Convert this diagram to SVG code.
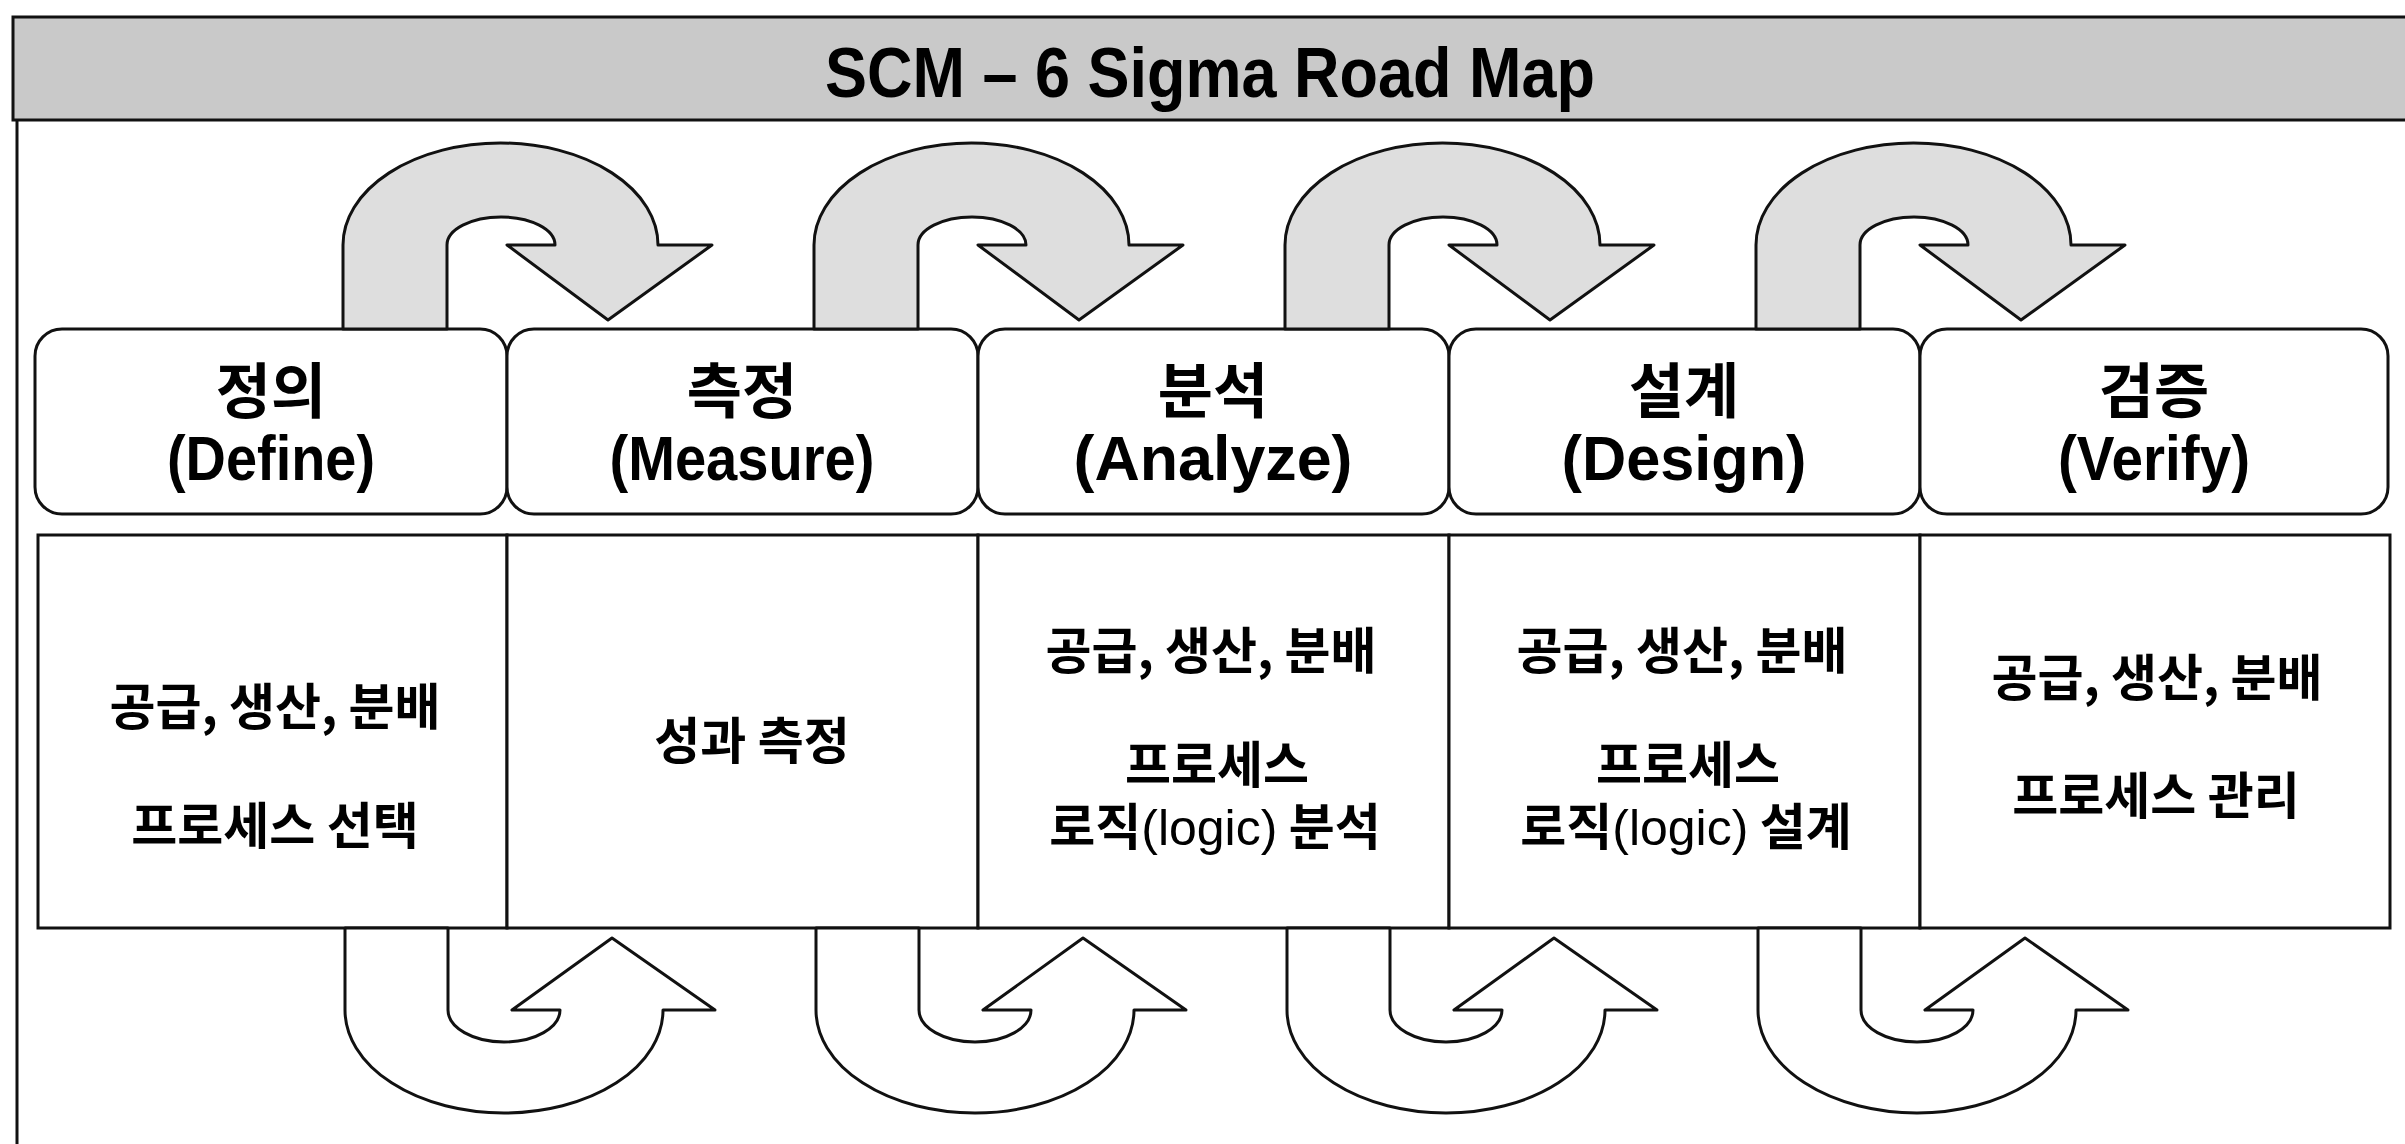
<svg xmlns="http://www.w3.org/2000/svg" width="2405" height="1144" viewBox="0 0 2405 1144">
<style>
.ln{stroke:#111;stroke-width:3;fill:none}
.hdr{fill:#c9c9c9;stroke:#111;stroke-width:3}
.rb{fill:#fff;stroke:#111;stroke-width:3}
.cell{fill:#fff;stroke:#111;stroke-width:3}
.up{fill:#dedede;stroke:#111;stroke-width:3;stroke-linejoin:round}
.down{fill:#fff;stroke:#111;stroke-width:3;stroke-linejoin:round}
.ttl{font-family:"Liberation Sans Narrow","Liberation Sans",Arial,sans-serif;font-weight:bold;font-size:70px;fill:#000;text-anchor:middle}
.ko{font-family:"Noto Sans CJK KR","Noto Sans",sans-serif;font-weight:bold;font-size:60px;fill:#000;text-anchor:middle}
.en{font-family:"Liberation Sans Narrow","Liberation Sans",Arial,sans-serif;font-weight:bold;font-size:63px;fill:#000;text-anchor:middle}
.tx{font-family:"Noto Sans CJK KR","Noto Sans",sans-serif;font-weight:bold;font-size:50px;fill:#000;text-anchor:middle}
.lat{font-family:"Liberation Sans",Arial,sans-serif;font-weight:normal}
</style>
<rect x="0" y="0" width="2405" height="1144" fill="#fff"/>
<g id="header">
<rect class="hdr" x="13" y="17" width="2400" height="103"/>
<text class="ttl" x="1210" y="97" textLength="770" lengthAdjust="spacingAndGlyphs">SCM – 6 Sigma Road Map</text>
</g>
<g id="frame">
<line class="ln" x1="17" y1="120" x2="17" y2="1144"/>
</g>
<g id="node-define">
<rect class="rb" x="35" y="329" width="472" height="185" rx="27"/>
<text class="ko" x="271" y="413">정의</text>
<text class="en" x="271" y="480" textLength="208" lengthAdjust="spacingAndGlyphs">(Define)</text>
</g>
<g id="node-measure">
<rect class="rb" x="507" y="329" width="471" height="185" rx="27"/>
<text class="ko" x="742" y="413">측정</text>
<text class="en" x="742" y="480" textLength="265" lengthAdjust="spacingAndGlyphs">(Measure)</text>
</g>
<g id="node-analyze">
<rect class="rb" x="978" y="329" width="471" height="185" rx="27"/>
<text class="ko" x="1213" y="413">분석</text>
<text class="en" x="1213" y="480" textLength="279" lengthAdjust="spacingAndGlyphs">(Analyze)</text>
</g>
<g id="node-design">
<rect class="rb" x="1449" y="329" width="471" height="185" rx="27"/>
<text class="ko" x="1684" y="413">설계</text>
<text class="en" x="1684" y="480" textLength="245" lengthAdjust="spacingAndGlyphs">(Design)</text>
</g>
<g id="node-verify">
<rect class="rb" x="1920" y="329" width="468" height="185" rx="27"/>
<text class="ko" x="2154" y="413">검증</text>
<text class="en" x="2154" y="480" textLength="192" lengthAdjust="spacingAndGlyphs">(Verify)</text>
</g>
<g id="cell-define">
<rect class="cell" x="38" y="535" width="469" height="393"/>
<text class="tx" x="275" y="725">공급, 생산, 분배</text>
<text class="tx" x="275" y="844">프로세스 선택</text>
</g>
<g id="cell-measure">
<rect class="cell" x="507" y="535" width="471" height="393"/>
<text class="tx" x="752" y="759">성과 측정</text>
</g>
<g id="cell-analyze">
<rect class="cell" x="978" y="535" width="471" height="393"/>
<text class="tx" x="1211" y="669">공급, 생산, 분배</text>
<text class="tx" x="1217" y="783">프로세스</text>
<text class="tx" x="1215" y="845">로직<tspan class="lat">(logic)</tspan> 분석</text>
</g>
<g id="cell-design">
<rect class="cell" x="1449" y="535" width="471" height="393"/>
<text class="tx" x="1682" y="669">공급, 생산, 분배</text>
<text class="tx" x="1688" y="783">프로세스</text>
<text class="tx" x="1686" y="845">로직<tspan class="lat">(logic)</tspan> 설계</text>
</g>
<g id="cell-verify">
<rect class="cell" x="1920" y="535" width="470" height="393"/>
<text class="tx" x="2157" y="696">공급, 생산, 분배</text>
<text class="tx" x="2156" y="814">프로세스 관리</text>
</g>
<g id="connectors">
<path class="up" d="M343,329 L343,245 A157.5,102 0 0 1 658,245 L712,245 L608,320 L507,245 L555,245 A54,28 0 0 0 447,245 L447,329 Z"/>
<path class="up" d="M814,329 L814,245 A157.5,102 0 0 1 1129,245 L1183,245 L1079,320 L978,245 L1026,245 A54,28 0 0 0 918,245 L918,329 Z"/>
<path class="up" d="M1285,329 L1285,245 A157.5,102 0 0 1 1600,245 L1654,245 L1550,320 L1449,245 L1497,245 A54,28 0 0 0 1389,245 L1389,329 Z"/>
<path class="up" d="M1756,329 L1756,245 A157.5,102 0 0 1 2071,245 L2125,245 L2021,320 L1920,245 L1968,245 A54,28 0 0 0 1860,245 L1860,329 Z"/>
<path class="down" d="M345,928 L345,1010 A159,103 0 0 0 663,1010 L715,1010 L612,938 L512,1010 L560,1010 A56,32 0 0 1 448,1010 L448,928 Z"/>
<path class="down" d="M816,928 L816,1010 A159,103 0 0 0 1134,1010 L1186,1010 L1083,938 L983,1010 L1031,1010 A56,32 0 0 1 919,1010 L919,928 Z"/>
<path class="down" d="M1287,928 L1287,1010 A159,103 0 0 0 1605,1010 L1657,1010 L1554,938 L1454,1010 L1502,1010 A56,32 0 0 1 1390,1010 L1390,928 Z"/>
<path class="down" d="M1758,928 L1758,1010 A159,103 0 0 0 2076,1010 L2128,1010 L2025,938 L1925,1010 L1973,1010 A56,32 0 0 1 1861,1010 L1861,928 Z"/>
</g>
</svg>
